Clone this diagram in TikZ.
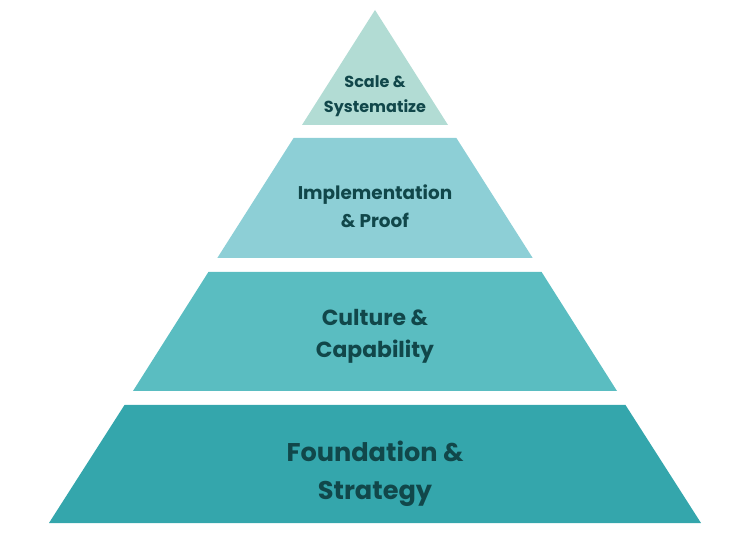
\documentclass[tikz,border=0pt]{standalone}
\usepackage{fontspec}
\setmainfont{Poppins}
\usepackage{tikz}
\usetikzlibrary{positioning}

\definecolor{layerone}{HTML}{B2DCD4}
\definecolor{layertwo}{HTML}{8DCFD6}
\definecolor{layerthree}{HTML}{5ABDC1}
\definecolor{layerfour}{HTML}{34A6AC}
\definecolor{labeltext}{HTML}{11474A}

\begin{document}
\begin{tikzpicture}[
        x=0.75pt, y=-0.75pt,
        label/.style={align=center, text=labeltext, font=\bfseries, inner sep=0pt}
    ]
        \useasboundingbox (0,0) rectangle (750,541);

        % Capas
        \fill[layerone] (375,10) -- (448,125) -- (302,125) -- cycle;
        \fill[layertwo] (293.6,138) -- (456.4,138) -- (532.7,258) -- (217.3,258) -- cycle;
        \fill[layerthree] (208.4,272) -- (541.6,272) -- (617,391) -- (133,391) -- cycle;
        \fill[layerfour] (124.5,405) -- (625.5,405) -- (701,523) -- (49,523) -- cycle;

        % Textos
        \node[label, font=\bfseries\fontsize{12}{19}\selectfont] (scale) at (375,96) {Scale \&\\Systematize};
        \node[label, font=\bfseries\fontsize{13.8}{21}\selectfont] (impl) at (375,206) {Implementation\\\& Proof};
        \node[label, font=\bfseries\fontsize{16.4}{24}\selectfont] (culture) at (375,336) {Culture \&\\Capability};
        \node[label, font=\bfseries\fontsize{19.2}{28.5}\selectfont] (found) at (375,474) {Foundation \&\\Strategy};
    \end{tikzpicture}
\end{document}
